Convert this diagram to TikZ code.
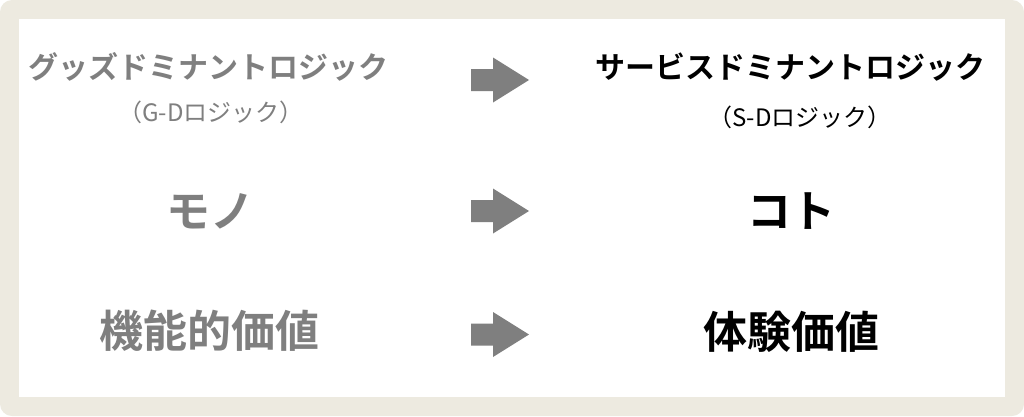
\documentclass[tikz,border=0pt]{standalone}
\usepackage{fontspec}
\newfontfamily\jpb{Noto Sans CJK JP Bold}
\newfontfamily\jpr{Noto Sans CJK JP}
\definecolor{beige}{HTML}{EDEAE0}
\definecolor{leftgray}{HTML}{7F7F7F}
\definecolor{arrowgray}{HTML}{7F7F7F}
\tikzset{
  txt/.style={inner sep=0pt, anchor=center},
  big/.style={txt, font=\jpb\fontsize{30}{36}\selectfont},
  sub/.style={txt, font=\jpr\fontsize{24}{28}\selectfont},
  huge/.style={txt, font=\jpb\fontsize{44}{52}\selectfont},
  leftcol/.style={text=leftgray},
  rightcol/.style={text=black},
  blockarrow/.pic={
    \fill[arrowgray] (-29,-11) -- (-7,-11) -- (-7,-22.5) -- (29,0) -- (-7,22.5) -- (-7,11) -- (-29,11) -- cycle;
  }
}
\begin{document}
\begin{tikzpicture}[x=1pt,y=-1pt]
\useasboundingbox (0,0) rectangle (1024,416);
\fill[white] (0,0) rectangle (1024,416);
\fill[beige, rounded corners=12pt] (0,0) rectangle (1024,416);
\fill[white] (19,19) rectangle (1005,397);

\node[big, leftcol] (gd) at (208.5,67) {グッズドミナントロジック};
\node[sub, leftcol] (gdsub) at (211,112.5) {（G-Dロジック）};
\node[big, rightcol] (sd) at (790,67.5) {サービスドミナントロジック};
\node[sub, rightcol] (sdsub) at (800,117.5) {（S-Dロジック）};

\node[huge, leftcol] (mono) at (210,211) {モノ};
\node[huge, rightcol] (koto) at (791,211) {コト};

\node[huge, leftcol] (kino) at (209,331) {機能的価値};
\node[huge, rightcol] (taiken) at (791,332) {体験価値};

\pic at (500,80) {blockarrow};
\pic at (500,211) {blockarrow};
\pic at (500,334.5) {blockarrow};
\end{tikzpicture}
\end{document}
